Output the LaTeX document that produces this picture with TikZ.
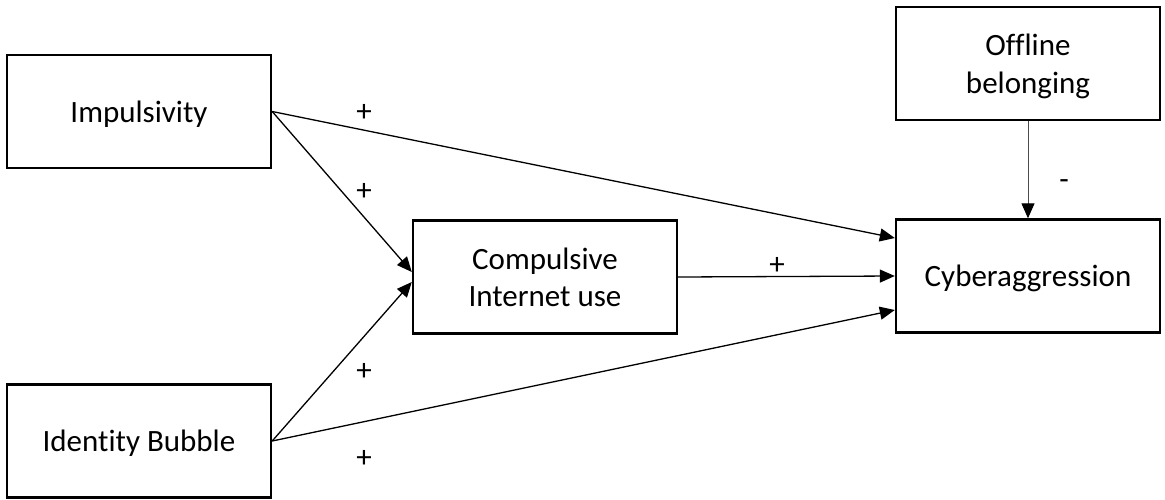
\documentclass[tikz,border=0pt]{standalone}
\usepackage{fontspec}
\setmainfont{Carlito}[Ligatures={NoCommon,NoContextual}]
\usetikzlibrary{arrows.meta}
\begin{document}
\begin{tikzpicture}[x=1pt,y=-1pt,
  box/.style={draw, line width=2.4pt, minimum width=264pt, minimum height=113pt,
    inner sep=0pt, align=center, text depth=0pt, font=\fontsize{31}{37.5}\selectfont},
  link/.style={line width=1.3pt, -{Triangle[length=15pt,width=13pt]}},
  sign/.style={font=\fontsize{31}{37}\selectfont, inner sep=0pt}]
\useasboundingbox (0,0) rectangle (1165,499);
% variables
\node[box] (imp) at (139,111.5) {Impulsivity};
\node[box] (idb) at (139,441) {Identity Bubble};
\node[box] (ciu) at (545,277) {Compulsive\\Internet use};
\node[box] (cyb) at (1028,276) {Cyberaggression};
\node[box] (off) at (1028,63.5) {Offline\\belonging};
% paths
\draw[link] (imp.east) -- ([yshift=38pt]cyb.west);
\draw[link] (imp.east) -- ([yshift=5pt]ciu.west);
\draw[link] (idb.east) -- ([yshift=-5pt]ciu.west);
\draw[link] (idb.east) -- ([yshift=-34pt]cyb.west);
\draw[link] (ciu.east) -- (cyb.west);
\draw[link, line width=1pt, draw=black!70, -{Triangle[length=15pt,width=13pt,color=black]}] (off.south) -- (cyb.north);
% signs of the effects
\node[sign] (s1) at (364,113) {+};
\node[sign] (s2) at (364,192) {+};
\node[sign] (s3) at (364,372) {+};
\node[sign] (s4) at (364,459) {+};
\node[sign] (s5) at (777,266) {+};
\node[sign] (s6) at (1064,185) {-};
\end{tikzpicture}
\end{document}
